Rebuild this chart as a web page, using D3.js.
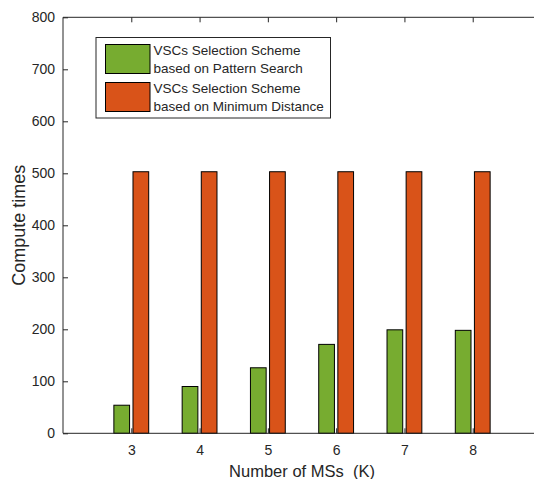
<!DOCTYPE html>
<html><head><meta charset="utf-8">
<script src="https://cdn.jsdelivr.net/npm/d3@7/dist/d3.min.js"></script>
<style>body{margin:0;background:#fff}svg{display:block}text{font-family:"Liberation Sans",Arial,sans-serif;fill:#262626;white-space:pre}</style>
</head><body>
<svg id="c" width="534" height="479"></svg>
<script>
const categories = [3, 4, 5, 6, 7, 8];
const patternSearch = [54, 90, 126, 171, 199, 198];
const minimumDistance = [503, 503, 503, 503, 503, 503];
const seriesNames = [["VSCs Selection Scheme", "based on Pattern Search"], ["VSCs Selection Scheme", "based on Minimum Distance"]];
const colors = ["#77AC30", "#D95319"];
const yTicks = [0, 100, 200, 300, 400, 500, 600, 700, 800];

const svg = d3.select("#c");
const L = 63, R = 541, T = 17.3, B = 433.3;
const x = d3.scaleLinear().domain([2, 9]).range([L, R]);
const y = d3.scaleLinear().domain([0, 800]).range([B, T]);
const axisColor = "#262626";
const bw = 0.23, off = 0.14;

const series = [patternSearch, minimumDistance];
series.forEach((vals, si) => {
  svg.append("g").selectAll("rect").data(categories).join("rect")
    .attr("x", (d) => x(d + (si === 0 ? -off : off) - bw / 2))
    .attr("width", x(2 + bw) - x(2))
    .attr("y", (d, i) => y(vals[i]))
    .attr("height", (d, i) => y(0) - y(vals[i]))
    .attr("fill", colors[si]).attr("stroke", "#000").attr("stroke-width", 1);
});

// axes
const gx = svg.append("g").attr("transform", `translate(0,${B})`)
  .call(d3.axisBottom(x).tickValues(categories).tickSize(-5).tickPadding(12).tickFormat(d3.format("d")));
const gxt = svg.append("g").attr("transform", `translate(0,${T})`)
  .call(d3.axisTop(x).tickValues(categories).tickSize(-5).tickFormat(""));
const gy = svg.append("g").attr("transform", `translate(${L},0)`)
  .call(d3.axisLeft(y).tickValues(yTicks).tickSize(-5).tickPadding(8).tickFormat(d3.format("d")));
[gx, gxt, gy].forEach(g => {
  g.select(".domain").attr("stroke", axisColor).attr("d", null);
  g.selectAll(".tick line").attr("stroke", axisColor);
  g.selectAll("text").attr("font-size", 14).attr("fill", axisColor).style("font-family", '"Liberation Sans",Arial,sans-serif');
});
gx.select(".domain").attr("d", `M${L},0H${R}`);
gxt.select(".domain").attr("d", `M${L},0H${R}`);
gy.select(".domain").attr("d", `M0,${T}V${B}`);

// axis labels
svg.append("text").attr("x", (L + R) / 2).attr("y", 476.5).attr("text-anchor", "middle")
  .attr("font-size", 16.5).text("Number of MSs  (K)");
svg.append("text").attr("transform", `translate(25,${(T + B) / 2}) rotate(-90)`).attr("text-anchor", "middle")
  .attr("font-size", 18).text("Compute times");

// legend
const lg = svg.append("g");
lg.append("rect").attr("x", 96).attr("y", 37.5).attr("width", 234.5).attr("height", 80.5)
  .attr("fill", "#fff").attr("stroke", "#262626").attr("stroke-width", 1);
const swY = [44.5, 82.5];
seriesNames.forEach((nm, i) => {
  lg.append("rect").attr("x", 105.5).attr("y", swY[i]).attr("width", 44.5).attr("height", 29)
    .attr("fill", colors[i]).attr("stroke", "#000");
  const cy = swY[i] + 14.5;
  lg.append("text").attr("x", 153.5).attr("y", cy - 4.5).attr("font-size", 13.5).text(nm[0]);
  lg.append("text").attr("x", 153.5).attr("y", cy + 14).attr("font-size", 13.5).text(nm[1]);
});
</script>
</body></html>
